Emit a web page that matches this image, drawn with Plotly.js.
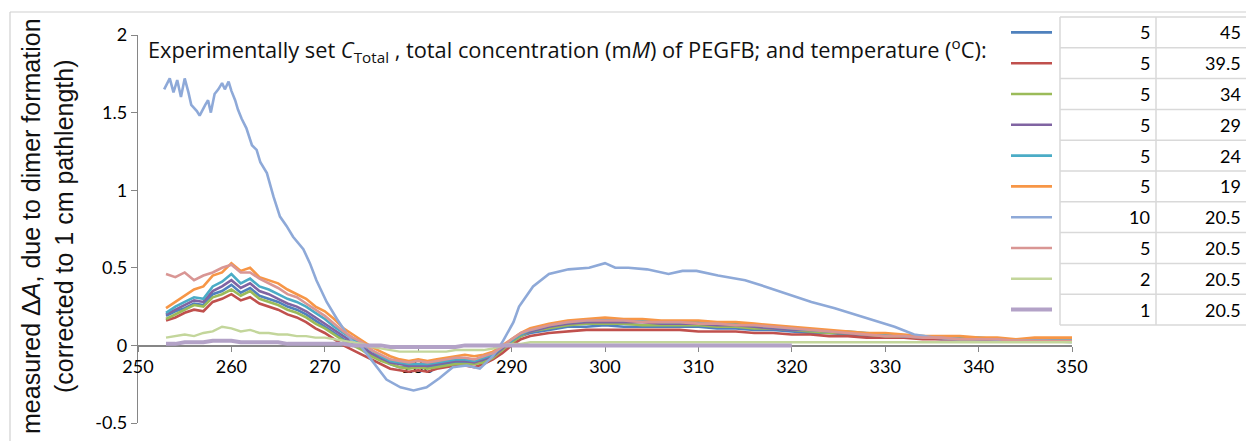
<!DOCTYPE html>
<html>
<head>
<meta charset="utf-8">
<script src="https://cdn.plot.ly/plotly-3.0.1.min.js"></script>
<style>html,body{margin:0;padding:0;background:#fff;}#chart{width:1246px;height:441px;}</style>
</head>
<body>
<div id="chart"></div>
<script>
// Wavelength (nm)
const wl = [253,254,255,256,257,258,259,260,261,262,263,264,265,266,267,268,269,270,271,272,
  273,274,275,276,277,278,279,280,281,282,283,284,285,286,287,288,289,290,291,292,
  294,296,298,300,302,304,306,308,310,312,314,316,318,320,322,324,326,328,330,332,
  334,336,338,340,342,344,346,348,350];

// 5 mM, 45 C
const c5_t45 = [0.19,0.22,0.24,0.27,0.26,0.33,0.35,0.39,0.34,0.37,
  0.32,0.30,0.28,0.25,0.23,0.20,0.16,0.12,0.08,0.04,
  0.01,-0.02,-0.06,-0.09,-0.12,-0.14,-0.14,-0.14,-0.14,-0.13,
  -0.12,-0.11,-0.11,-0.12,-0.10,-0.08,-0.03,0.02,0.06,0.08,
  0.10,0.12,0.12,0.13,0.12,0.12,0.12,0.12,0.12,0.11,
  0.11,0.10,0.10,0.09,0.08,0.08,0.07,0.06,0.06,0.05,
  0.05,0.04,0.04,0.04,0.04,0.03,0.03,0.03,0.03];
// 5 mM, 39.5 C
const c5_t395 = [0.16,0.18,0.21,0.23,0.22,0.28,0.30,0.33,0.29,0.31,
  0.27,0.25,0.23,0.20,0.18,0.15,0.11,0.08,0.04,0.00,
  -0.03,-0.06,-0.09,-0.12,-0.15,-0.16,-0.17,-0.16,-0.17,-0.15,
  -0.14,-0.13,-0.13,-0.14,-0.12,-0.09,-0.05,0.00,0.04,0.06,
  0.08,0.09,0.10,0.10,0.10,0.10,0.10,0.10,0.09,0.09,
  0.09,0.08,0.08,0.07,0.07,0.06,0.06,0.05,0.05,0.05,
  0.04,0.04,0.04,0.04,0.03,0.03,0.03,0.03,0.03];
// 5 mM, 34 C
const c5_t34 = [0.17,0.20,0.23,0.26,0.25,0.31,0.33,0.36,0.32,0.35,
  0.30,0.28,0.26,0.23,0.21,0.18,0.14,0.11,0.07,0.03,
  0.00,-0.03,-0.07,-0.10,-0.12,-0.14,-0.15,-0.14,-0.15,-0.14,
  -0.13,-0.12,-0.12,-0.12,-0.11,-0.08,-0.03,0.02,0.06,0.09,
  0.11,0.13,0.14,0.14,0.14,0.13,0.13,0.13,0.13,0.12,
  0.12,0.11,0.11,0.10,0.09,0.08,0.08,0.07,0.06,0.06,
  0.05,0.05,0.04,0.04,0.04,0.04,0.04,0.04,0.04];
// 5 mM, 29 C
const c5_t29 = [0.20,0.23,0.26,0.29,0.28,0.35,0.38,0.42,0.37,0.40,
  0.35,0.33,0.30,0.27,0.25,0.22,0.18,0.14,0.10,0.06,
  0.02,-0.01,-0.05,-0.08,-0.11,-0.12,-0.13,-0.13,-0.13,-0.12,
  -0.11,-0.10,-0.10,-0.11,-0.09,-0.07,-0.02,0.03,0.07,0.09,
  0.12,0.14,0.15,0.15,0.15,0.15,0.14,0.14,0.14,0.13,
  0.13,0.12,0.11,0.10,0.10,0.09,0.08,0.07,0.07,0.06,
  0.05,0.05,0.05,0.04,0.04,0.04,0.04,0.04,0.04];
// 5 mM, 24 C
const c5_t24 = [0.21,0.25,0.28,0.31,0.30,0.38,0.41,0.46,0.40,0.43,
  0.38,0.36,0.33,0.30,0.28,0.25,0.21,0.17,0.12,0.08,
  0.04,0.01,-0.03,-0.07,-0.10,-0.11,-0.12,-0.12,-0.12,-0.11,
  -0.10,-0.09,-0.09,-0.10,-0.08,-0.06,-0.01,0.03,0.07,0.10,
  0.13,0.15,0.16,0.17,0.16,0.16,0.15,0.15,0.15,0.14,
  0.14,0.13,0.12,0.11,0.10,0.09,0.09,0.08,0.07,0.06,
  0.06,0.05,0.05,0.05,0.04,0.04,0.04,0.04,0.04];
// 5 mM, 19 C
const c5_t19 = [0.24,0.28,0.32,0.36,0.38,0.45,0.47,0.53,0.48,0.50,
  0.44,0.42,0.40,0.36,0.33,0.30,0.25,0.22,0.17,0.11,
  0.07,0.03,-0.01,-0.04,-0.07,-0.09,-0.10,-0.09,-0.10,-0.09,
  -0.08,-0.07,-0.06,-0.07,-0.06,-0.04,0.00,0.04,0.08,0.11,
  0.14,0.16,0.17,0.18,0.17,0.17,0.16,0.16,0.16,0.15,
  0.15,0.14,0.13,0.12,0.11,0.10,0.09,0.08,0.08,0.07,
  0.06,0.06,0.06,0.05,0.05,0.04,0.05,0.05,0.05];
// 10 mM, 20.5 C (own wavelength grid)
const wl10 = [252.8,253.4,253.8,254.2,254.6,255.0,255.4,255.7,256.3,256.6,257.2,257.5,257.8,258.2,258.6,
  259.0,259.3,259.7,260.0,260.4,260.7,261.1,261.6,262.2,262.7,263.1,263.8,264.5,265.2,265.9,266.6,
  267.7,268.4,269.1,270.2,271.3,272.3,273.0,273.8,275.2,276.6,278.1,279.5,280.9,282.3,283.7,285.2,
  286.6,288.0,289.0,290.2,290.8,292.3,294.0,296.1,298.3,300.0,301.1,302.5,304.5,306.8,308.3,309.8,
  312.1,315.0,317.1,319.6,322.1,324.6,327.2,328.9,331.0,333.1,335.2,338.0,341.0,344.0,347.0,350.0];
const c10_t205 = [1.65,1.72,1.63,1.71,1.60,1.72,1.63,1.55,1.51,1.48,1.55,1.58,1.50,1.62,1.65,
  1.69,1.65,1.70,1.64,1.58,1.52,1.46,1.40,1.29,1.26,1.18,1.11,0.96,0.83,0.77,0.70,
  0.62,0.53,0.42,0.28,0.17,0.08,0.02,0.00,-0.11,-0.22,-0.27,-0.29,-0.27,-0.21,-0.14,-0.13,
  -0.15,-0.07,0.02,0.15,0.25,0.38,0.46,0.49,0.50,0.53,0.50,0.50,0.49,0.46,0.48,0.48,
  0.45,0.42,0.38,0.33,0.28,0.24,0.19,0.16,0.12,0.07,0.05,0.04,0.04,0.03,0.03,0.02];
// 5 mM, 20.5 C
const c5_t205 = [0.46,0.44,0.47,0.42,0.45,0.47,0.50,0.52,0.47,0.47,
  0.43,0.40,0.37,0.33,0.31,0.27,0.23,0.19,0.14,0.09,
  0.05,0.02,-0.03,-0.06,-0.09,-0.10,-0.11,-0.10,-0.11,-0.10,
  -0.09,-0.08,-0.08,-0.09,-0.07,-0.05,-0.01,0.04,0.08,0.10,
  0.13,0.15,0.16,0.16,0.16,0.15,0.15,0.15,0.14,0.14,
  0.13,0.13,0.12,0.11,0.10,0.09,0.08,0.07,0.06,0.06,
  0.05,0.05,0.04,0.04,0.04,0.03,0.03,0.03,0.03];
// 2 mM, 20.5 C
const c2_t205 = [0.05,0.06,0.07,0.06,0.08,0.09,0.12,0.11,0.09,0.10,
  0.08,0.08,0.07,0.07,0.06,0.06,0.05,0.05,0.04,0.03,
  0.02,0.01,-0.01,-0.02,-0.03,-0.04,-0.04,-0.04,-0.04,-0.04,
  -0.04,-0.03,-0.03,-0.03,-0.03,-0.02,0.00,0.01,0.01,0.02,
  0.02,0.02,0.02,0.02,0.02,0.02,0.02,0.02,0.02,0.02,
  0.02,0.02,0.02,0.02,0.02,0.02,0.02,0.02,0.02,0.02,
  0.02,0.02,0.02,0.02,0.02,0.02,0.02,0.02,0.02];
// 1 mM, 20.5 C (ends near 320 nm)
const c1_t205 = [0.01,0.01,0.02,0.02,0.02,0.03,0.03,0.03,0.02,0.02,
  0.02,0.02,0.02,0.01,0.01,0.01,0.01,0.01,0.01,0.01,
  0.00,0.00,0.00,0.00,-0.01,-0.01,-0.01,-0.01,-0.01,-0.01,
  -0.01,-0.01,0.00,0.00,0.00,0.00,0.00,0.00,0.00,0.00,
  0.00,0.00,0.00,0.00,0.00,0.00,0.00,0.00,0.00,0.00,
  0.00,0.00,0.00,0.00];

// Legend table text
const legendConc = ['5','5','5','5','5','5','10','5','2','1'];
const legendTemp = ['45','39.5','34','29','24','19','20.5','20.5','20.5','20.5'];

// Axis ticks
const xTickVals = [250,260,270,280,290,300,310,320,330,340,350];
const yTickVals = [-0.5,0,0.5,1,1.5,2];
const yTickText = ['-0.5','0','0.5','1','1.5','2'];

const seriesX = [wl,wl,wl,wl,wl,wl,wl10,wl,wl,wl];
const seriesY = [c5_t45,c5_t395,c5_t34,c5_t29,c5_t24,c5_t19,c10_t205,c5_t205,c2_t205,c1_t205];
const colors = ['#4F81BD','#C0504D','#9BBB59','#8064A2','#4BACC6','#F79646','#8EA9D8','#D99694','#C3D69B','#B3A2C7'];
const widths = [2.6,2.6,2.6,2.6,2.6,2.6,2.6,2.6,2.4,4];

const traces = seriesY.map((y,i)=>({
  type:'scatter', mode:'lines', x: seriesX[i], y: y,
  line:{color: colors[i], width: widths[i]},
  name: legendConc[i]+' / '+legendTemp[i], showlegend:false, hoverinfo:'skip'
}));

// pixel helpers for plot geometry
const L=138, T=35, W=934, H=388;
const px = v => (v-L)/W;
const py = v => 1-(v-T)/H;

const gridC = '#d9d9d9';
const shapes = [];
const annotations = [];
// outer chart border (top and left)
shapes.push({type:'line', xref:'paper', yref:'paper', x0:px(10), x1:px(1260), y0:py(12), y1:py(12), line:{color:'#d0d0d0', width:1.2}});
shapes.push({type:'line', xref:'paper', yref:'paper', x0:px(10), x1:px(10), y0:py(12), y1:py(450), line:{color:'#d0d0d0', width:1.2}});
// legend table
const rowTop = 17, rowH = 30.8, nRows = legendConc.length;
for (let k=0;k<=nRows;k++){
  shapes.push({type:'line', xref:'paper', yref:'paper', x0:px(1060), x1:px(1260), y0:py(rowTop+k*rowH), y1:py(rowTop+k*rowH), line:{color:gridC, width:1.5}});
}
[1060,1156].forEach(xv=>{
  shapes.push({type:'line', xref:'paper', yref:'paper', x0:px(xv), x1:px(xv), y0:py(rowTop), y1:py(rowTop+nRows*rowH), line:{color:gridC, width:1.5}});
});
for (let i=0;i<nRows;i++){
  const cy = rowTop + rowH*(i+0.5);
  shapes.push({type:'line', xref:'paper', yref:'paper', x0:px(1011), x1:px(1052), y0:py(cy), y1:py(cy), line:{color:colors[i], width:widths[i]}});
  annotations.push({xref:'paper', yref:'paper', x:px(1152), y:py(cy), xanchor:'right', yanchor:'middle', showarrow:false, text:legendConc[i], font:{family:'Lato', size:18, color:'#000'}});
  annotations.push({xref:'paper', yref:'paper', x:px(1243), y:py(cy), xanchor:'right', yanchor:'middle', showarrow:false, text:legendTemp[i], font:{family:'Lato', size:18, color:'#000'}});
}
// chart heading text
annotations.push({xref:'paper', yref:'paper', x:px(146), y:py(50), xanchor:'left', yanchor:'middle', showarrow:false,
  text:'Experimentally set <i>C</i><sub>Total</sub> , total concentration (m<i>M</i>) of PEGFB; and temperature (<sup>o</sup>C):',
  font:{family:'Open Sans', size:21.8, color:'#111'}});
// y-axis title
annotations.push({xref:'paper', yref:'paper', x:px(47), y:py(226), xanchor:'center', yanchor:'middle', showarrow:false, textangle:-90,
  text:'measured Δ<i>A</i>, due to dimer formation<br>(corrected to 1 cm pathlength)',
  font:{family:'Liberation Sans', size:25, color:'#111'}});

const layout = {
  width:1246, height:441,
  margin:{l:L, r:1246-L-W, t:T, b:441-T-H, pad:0},
  paper_bgcolor:'#fff', plot_bgcolor:'#fff',
  showlegend:false,
  xaxis:{range:[250,350], tickvals:xTickVals, anchor:'free', position:0.2, showline:true, linecolor:'#868686', linewidth:1.2,
    ticks:'outside', ticklen:5, tickcolor:'#868686', showgrid:false, zeroline:false, layer:'below traces',
    tickfont:{family:'Lato', size:18, color:'#000'}},
  yaxis:{range:[-0.5,2], tickvals:yTickVals, ticktext:yTickText, showline:true, linecolor:'#868686', linewidth:1.2,
    ticks:'outside', ticklen:6, tickcolor:'#868686', showgrid:false, zeroline:false, layer:'below traces',
    tickfont:{family:'Lato', size:18, color:'#000'}},
  shapes: shapes,
  annotations: annotations
};

Plotly.newPlot('chart', traces, layout, {displayModeBar:false, staticPlot:true});
</script>
</body>
</html>
